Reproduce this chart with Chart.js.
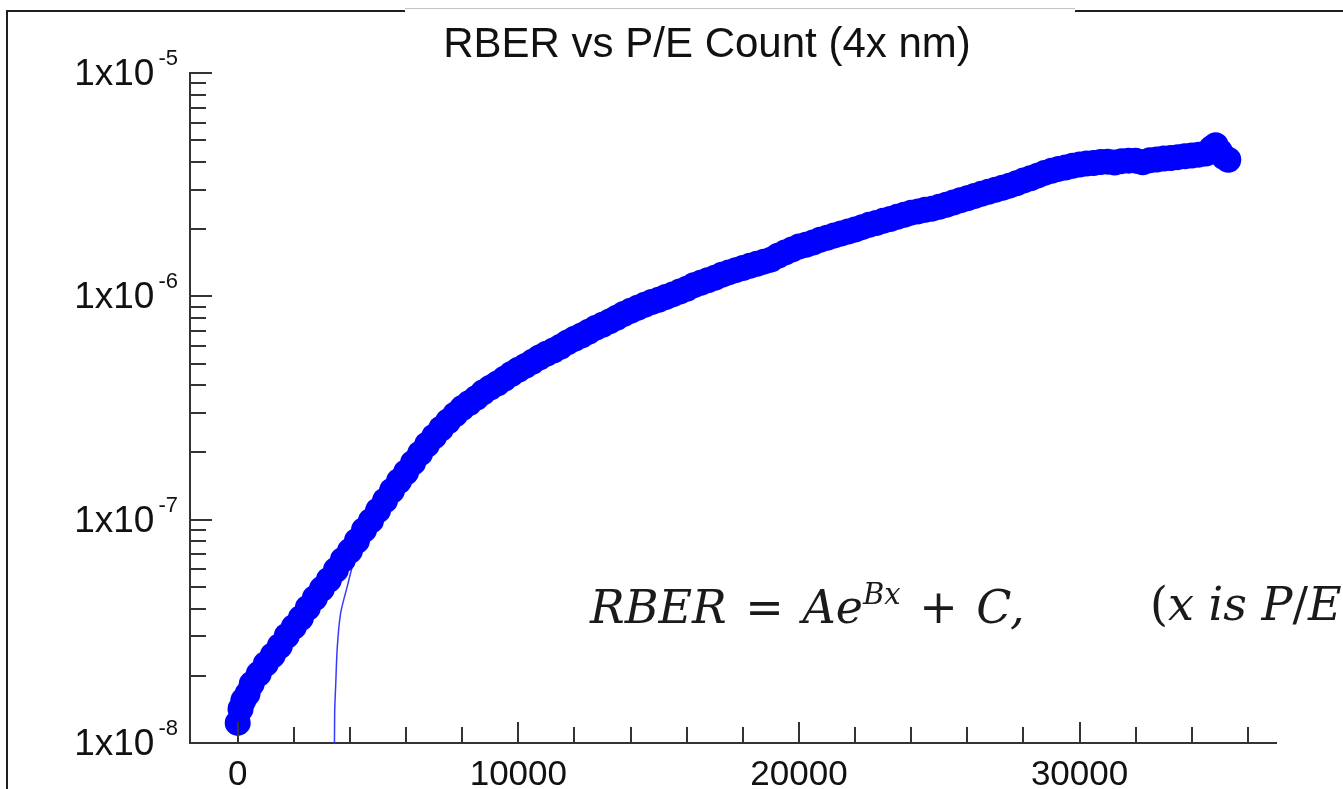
<!DOCTYPE html>
<html>
<head>
<meta charset="utf-8">
<title>RBER vs P/E Count</title>
<script src="https://cdn.jsdelivr.net/npm/chart.js@4.4.1/dist/chart.umd.min.js"></script>
<style>
  html, body { margin: 0; padding: 0; background: #fff; overflow: hidden; }
  #wrap { position: relative; width: 1343px; height: 789px; overflow: hidden; }
  #frame { position: absolute; left: 6px; top: 10px; width: 1400px; height: 800px;
           border-left: 2px solid #1e1e1e; border-top: 2px solid #1e1e1e; }
  #tab { position: absolute; left: 405px; top: 8px; width: 670px; height: 6px;
         background: #fff; border-top: 1px solid #c4c4c4; }
  canvas { position: absolute; left: 0; top: 0; }
  .eq { position: absolute; top: 577px; white-space: nowrap; line-height: 1;
        font: italic 46px "DejaVu Serif"; color: #1a1a1a; filter: blur(0.6px); }
  .eq .op { font-style: normal; margin: 0 4px; }
  .eq sup { font-size: 29px; vertical-align: 19px; }
  #eqMain { left: 590px; }
  #eqNote { left: 1150px; }
</style>
</head>
<body>
<div id="wrap">
  <div id="frame"></div>
  <div id="tab"></div>
  <canvas id="rberChart" width="1343" height="789"></canvas>
  <div class="eq" id="eqMain">RBER <span class="op">=</span> Ae<sup>Bx</sup> <span class="op">+</span> C,</div>
  <div class="eq" id="eqNote"><span style="font-style:normal">(</span>x is P<span style="font-style:normal">/</span>E count<span style="font-style:normal">)</span></div>
</div>
<script>
// measured RBER per P/E cycle count
const peCount = [0, 100, 200, 350, 500, 750, 1000, 1250, 1500, 1750, 2000, 2250,
  2500, 2750, 3000, 3250, 3500, 3750, 4000, 4250, 4500, 4750, 5000, 5250,
  5500, 5750, 6000, 6250, 6500, 6750, 7000, 7250, 7500, 7750, 8000, 8250,
  8500, 8750, 9000, 9250, 9500, 9750, 10000, 10250, 10500, 10750, 11000, 11250,
  11500, 11750, 12000, 12250, 12500, 12750, 13000, 13250, 13500, 13750, 14000, 14250,
  14500, 14750, 15000, 15250, 15500, 15750, 16000, 16250, 16500, 16750, 17000, 17250,
  17500, 17750, 18000, 18250, 18500, 18750, 19000, 19250, 19500, 19750, 20000, 20250,
  20500, 20750, 21000, 21250, 21500, 21750, 22000, 22250, 22500, 22750, 23000, 23250,
  23500, 23750, 24000, 24250, 24500, 24750, 25000, 25250, 25500, 25750, 26000, 26250,
  26500, 26750, 27000, 27250, 27500, 27750, 28000, 28250, 28500, 28750, 29000, 29250,
  29500, 29750, 30000, 30250, 30500, 30750, 31000, 31250, 31500, 31750, 32000, 32250,
  32500, 32750, 33000, 33250, 33500, 33750, 34000, 34250, 34500, 34700, 34850, 35000,
  35150, 35300];
const rber = [1.23e-8, 1.42e-8, 1.55e-8, 1.66e-8, 1.84e-8, 2.04e-8, 2.26e-8, 2.47e-8, 2.72e-8, 3.02e-8, 3.31e-8, 3.63e-8,
  4.03e-8, 4.46e-8, 4.90e-8, 5.38e-8, 5.96e-8, 6.62e-8, 7.25e-8, 8.05e-8, 9.00e-8, 9.90e-8, 1.10e-7, 1.22e-7,
  1.35e-7, 1.49e-7, 1.63e-7, 1.80e-7, 1.98e-7, 2.17e-7, 2.36e-7, 2.56e-7, 2.76e-7, 2.96e-7, 3.16e-7, 3.33e-7,
  3.51e-7, 3.72e-7, 3.90e-7, 4.07e-7, 4.27e-7, 4.49e-7, 4.69e-7, 4.88e-7, 5.09e-7, 5.32e-7, 5.53e-7, 5.72e-7,
  5.95e-7, 6.22e-7, 6.46e-7, 6.68e-7, 6.94e-7, 7.22e-7, 7.46e-7, 7.72e-7, 8.02e-7, 8.33e-7, 8.62e-7, 8.88e-7,
  9.17e-7, 9.43e-7, 9.66e-7, 9.92e-7, 1.02e-6, 1.05e-6, 1.08e-6, 1.12e-6, 1.15e-6, 1.18e-6, 1.21e-6, 1.25e-6,
  1.28e-6, 1.31e-6, 1.34e-6, 1.37e-6, 1.40e-6, 1.43e-6, 1.46e-6, 1.52e-6, 1.57e-6, 1.62e-6, 1.67e-6, 1.70e-6,
  1.74e-6, 1.79e-6, 1.83e-6, 1.87e-6, 1.91e-6, 1.95e-6, 1.99e-6, 2.04e-6, 2.09e-6, 2.13e-6, 2.18e-6, 2.22e-6,
  2.27e-6, 2.32e-6, 2.37e-6, 2.40e-6, 2.44e-6, 2.47e-6, 2.52e-6, 2.57e-6, 2.63e-6, 2.69e-6, 2.75e-6, 2.81e-6,
  2.88e-6, 2.94e-6, 3.00e-6, 3.06e-6, 3.13e-6, 3.21e-6, 3.30e-6, 3.38e-6, 3.47e-6, 3.57e-6, 3.65e-6, 3.72e-6,
  3.77e-6, 3.84e-6, 3.89e-6, 3.93e-6, 3.95e-6, 3.99e-6, 4.01e-6, 3.97e-6, 4.03e-6, 4.05e-6, 4.05e-6, 3.98e-6,
  4.07e-6, 4.10e-6, 4.14e-6, 4.16e-6, 4.20e-6, 4.24e-6, 4.27e-6, 4.31e-6, 4.36e-6, 4.60e-6, 4.75e-6, 4.45e-6,
  4.20e-6, 4.09e-6];

// fitted curve, only the part that shows below the data
const fitPe = [3440, 3455, 3490, 3550, 3665, 3900, 4120, 4300, 4600];
const fitRber = [6e-9, 1.36e-8, 1.79e-8, 2.7e-8, 3.8e-8, 5.0e-8, 6.4e-8, 7.3e-8, 8.6e-8];

const xTickLabels = [0, 10000, 20000, 30000];
const yTickExps = [-8, -7, -6, -5];
const chartTitle = 'RBER vs P/E Count (4x nm)';

const ink = '#111';
const axisColor = '#333';

// ticks point inward, labels drawn by hand so the exponent can be raised
const axisDecor = {
  id: 'axisDecor',
  afterDatasetsDraw(chart) {
    const {ctx, chartArea: a, scales: {x, y}} = chart;
    ctx.save();
    ctx.strokeStyle = axisColor;
    ctx.lineWidth = 2;
    ctx.beginPath();
    yTickExps.forEach(e => {
      for (let m = 1; m <= 9; m++) {
        if (e === yTickExps[yTickExps.length - 1] && m > 1) break;
        const py = Math.round(y.getPixelForValue(m * Math.pow(10, e)));
        ctx.moveTo(a.left, py);
        ctx.lineTo(a.left + (m === 1 ? 22 : 16), py);
      }
    });
    for (let v = 0; v <= x.max; v += 2000) {
      const px = Math.round(x.getPixelForValue(v));
      ctx.moveTo(px, a.bottom);
      ctx.lineTo(px, a.bottom - (v % 10000 === 0 ? 21 : 16));
    }
    ctx.stroke();

    ctx.fillStyle = ink;
    ctx.textBaseline = 'alphabetic';
    ctx.textAlign = 'right';
    yTickExps.forEach(e => {
      const py = y.getPixelForValue(Math.pow(10, e));
      const sup = String(e);
      ctx.font = '22px "Liberation Sans"';
      ctx.fillText(sup, a.left - 12, py - 8);
      const supW = ctx.measureText(sup).width;
      ctx.font = '37px "Liberation Sans"';
      ctx.fillText('1x10', a.left - 12 - supW - 4, py + 12);
    });

    ctx.textAlign = 'center';
    ctx.font = '35px "Liberation Sans"';
    xTickLabels.forEach(v => {
      ctx.fillText(String(v), x.getPixelForValue(v), a.bottom + 42);
    });

    ctx.font = '42px "Liberation Sans"';
    ctx.fillText(chartTitle, 707, 57);
    ctx.restore();
  }
};

const ctx = document.getElementById('rberChart').getContext('2d');
const rberChart = new Chart(ctx, {
  type: 'scatter',
  data: {
    datasets: [{
      label: 'RBER',
      data: peCount.map((pe, i) => ({x: pe, y: rber[i]})),
      pointRadius: 13,
      pointHoverRadius: 13,
      pointBorderWidth: 0,
      backgroundColor: '#0000ff',
      borderColor: '#0000ff'
    }, {
      label: 'fit',
      data: fitPe.map((pe, i) => ({x: pe, y: fitRber[i]})),
      showLine: true,
      pointRadius: 0,
      borderWidth: 1.5,
      borderColor: '#3a3aff',
      tension: 0.3
    }]
  },
  options: {
    responsive: false,
    animation: false,
    layout: { padding: { left: 190, right: 67, top: 73, bottom: 46 } },
    plugins: {
      legend: { display: false },
      tooltip: { enabled: false },
      title: { display: false }
    },
    scales: {
      x: {
        type: 'linear',
        min: -1700,
        max: 37000,
        grid: { display: false, drawTicks: false, tickLength: 0 },
        ticks: { display: false },
        border: { display: true, color: axisColor, width: 2 }
      },
      y: {
        type: 'logarithmic',
        min: 1e-8,
        max: 1e-5,
        grid: { display: false, drawTicks: false, tickLength: 0 },
        ticks: { display: false },
        border: { display: true, color: axisColor, width: 2 }
      }
    }
  },
  plugins: [axisDecor]
});
</script>
</body>
</html>
